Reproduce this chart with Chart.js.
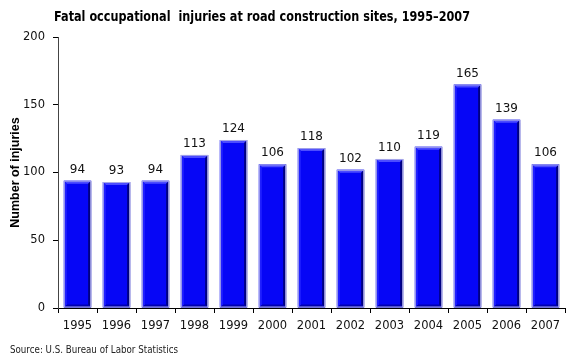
<!DOCTYPE html>
<html>
<head>
<meta charset="utf-8">
<script src="https://cdn.jsdelivr.net/npm/chart.js@4"></script>
<style>
  html, body { margin: 0; padding: 0; background: #fff; }
  #wrap { width: 580px; height: 360px; position: relative; }
</style>
</head>
<body>
<div id="wrap"><canvas id="chart" width="580" height="360"></canvas></div>
<script>
const years = ["1995", "1996", "1997", "1998", "1999", "2000", "2001",
  "2002", "2003", "2004", "2005", "2006", "2007"];
const injuries = [94, 93, 94, 113, 124, 106, 118, 102, 110, 119, 165, 139, 106];
const yTicks = [0, 50, 100, 150, 200];

const titleText = "Fatal occupational  injuries at road construction sites, 1995\u20132007";
const sourceText = "Source: U.S. Bureau of Labor Statistics";
const FONT = "'DejaVu Sans', Verdana, sans-serif";
const NARROW = "'Liberation Sans', Arial, sans-serif";

// write text, squeezed horizontally to a given width (keeps glyph height)
function fitText(ctx, text, x, y, width, font) {
  ctx.save();
  ctx.font = font;
  ctx.textAlign = "left";
  const w = ctx.measureText(text).width;
  const sx = w > width ? width / w : 1;
  ctx.translate(x, y);
  ctx.scale(sx, 1);
  ctx.fillText(text, 0, 0);
  ctx.restore();
}

// bevelled bars + value labels + title/source text
const decor = {
  id: "decor",
  afterDatasetsDraw(chart) {
    const ctx = chart.ctx;
    const meta = chart.getDatasetMeta(0);
    meta.data.forEach((bar, i) => {
      const l = bar.x - bar.width / 2, r = bar.x + bar.width / 2;
      const t = bar.y, b = bar.base;
      const e = 3;
      ctx.save();
      // top facet
      ctx.fillStyle = "#4c4cff";
      ctx.beginPath();
      ctx.moveTo(l, t); ctx.lineTo(r, t); ctx.lineTo(r - e, t + e); ctx.lineTo(l + e, t + e);
      ctx.fill();
      // right facet
      ctx.fillStyle = "#000080";
      ctx.beginPath();
      ctx.moveTo(r, t); ctx.lineTo(r, b); ctx.lineTo(r - e, b - e); ctx.lineTo(r - e, t + e);
      ctx.fill();
      // bottom facet
      ctx.fillStyle = "#0000b0";
      ctx.beginPath();
      ctx.moveTo(l, b); ctx.lineTo(r, b); ctx.lineTo(r - e, b - e); ctx.lineTo(l + e, b - e);
      ctx.fill();
      // left facet
      ctx.fillStyle = "#2020ff";
      ctx.beginPath();
      ctx.moveTo(l, t); ctx.lineTo(l, b); ctx.lineTo(l + e, b - e); ctx.lineTo(l + e, t + e);
      ctx.fill();
      // outline
      ctx.strokeStyle = "#a8a8e8";
      ctx.lineWidth = 1;
      ctx.strokeRect(l + 0.5, t + 0.5, bar.width - 1, b - t - 1);

      // value label
      ctx.fillStyle = "#111";
      ctx.font = "12px " + FONT;
      ctx.textAlign = "center";
      ctx.textBaseline = "bottom";
      ctx.fillText(String(injuries[i]), bar.x, t - 5);
      ctx.restore();
    });
  },
  afterDraw(chart) {
    const ctx = chart.ctx;
    ctx.save();
    ctx.textBaseline = "middle";
    ctx.fillStyle = "#000";
    fitText(ctx, titleText, 54, 17, 416, "bold 14px " + FONT);
    ctx.fillStyle = "#222";
    fitText(ctx, sourceText, 10, 350, 168, "10px " + FONT);
    ctx.restore();
  }
};

new Chart(document.getElementById("chart"), {
  type: "bar",
  data: {
    labels: years,
    datasets: [{
      data: injuries,
      backgroundColor: "#0606f6",
      borderWidth: 0,
      categoryPercentage: 1,
      barPercentage: 0.7
    }]
  },
  options: {
    responsive: false,
    animation: false,
    events: [],
    layout: { padding: { top: 37, left: 0, right: 15, bottom: 0 } },
    plugins: {
      legend: { display: false },
      tooltip: { enabled: false }
    },
    scales: {
      x: {
        afterFit: s => { s.height = 52; },
        grid: {
          offset: true,
          drawOnChartArea: false,
          drawTicks: true,
          tickLength: 5,
          color: "#000"
        },
        border: { color: "#000", width: 1 },
        ticks: {
          color: "#111",
          font: { family: FONT, size: 11.5 },
          padding: 6,
          maxRotation: 0
        }
      },
      y: {
        min: 0,
        max: 200,
        afterFit: s => { s.width = 58; },
        afterBuildTicks: s => { s.ticks = yTicks.map(v => ({ value: v })); },
        grid: {
          drawOnChartArea: false,
          drawTicks: true,
          tickLength: 5,
          color: "#000"
        },
        border: { color: "#444", width: 1 },
        ticks: {
          color: "#111",
          font: { family: FONT, size: 11.5 },
          padding: 8
        },
        title: {
          display: true,
          text: "Number of injuries",
          color: "#000",
          font: { family: NARROW, size: 12.5, weight: "bold" },
          padding: { top: 8, bottom: 0 }
        }
      }
    }
  },
  plugins: [decor]
});
</script>
</body>
</html>
